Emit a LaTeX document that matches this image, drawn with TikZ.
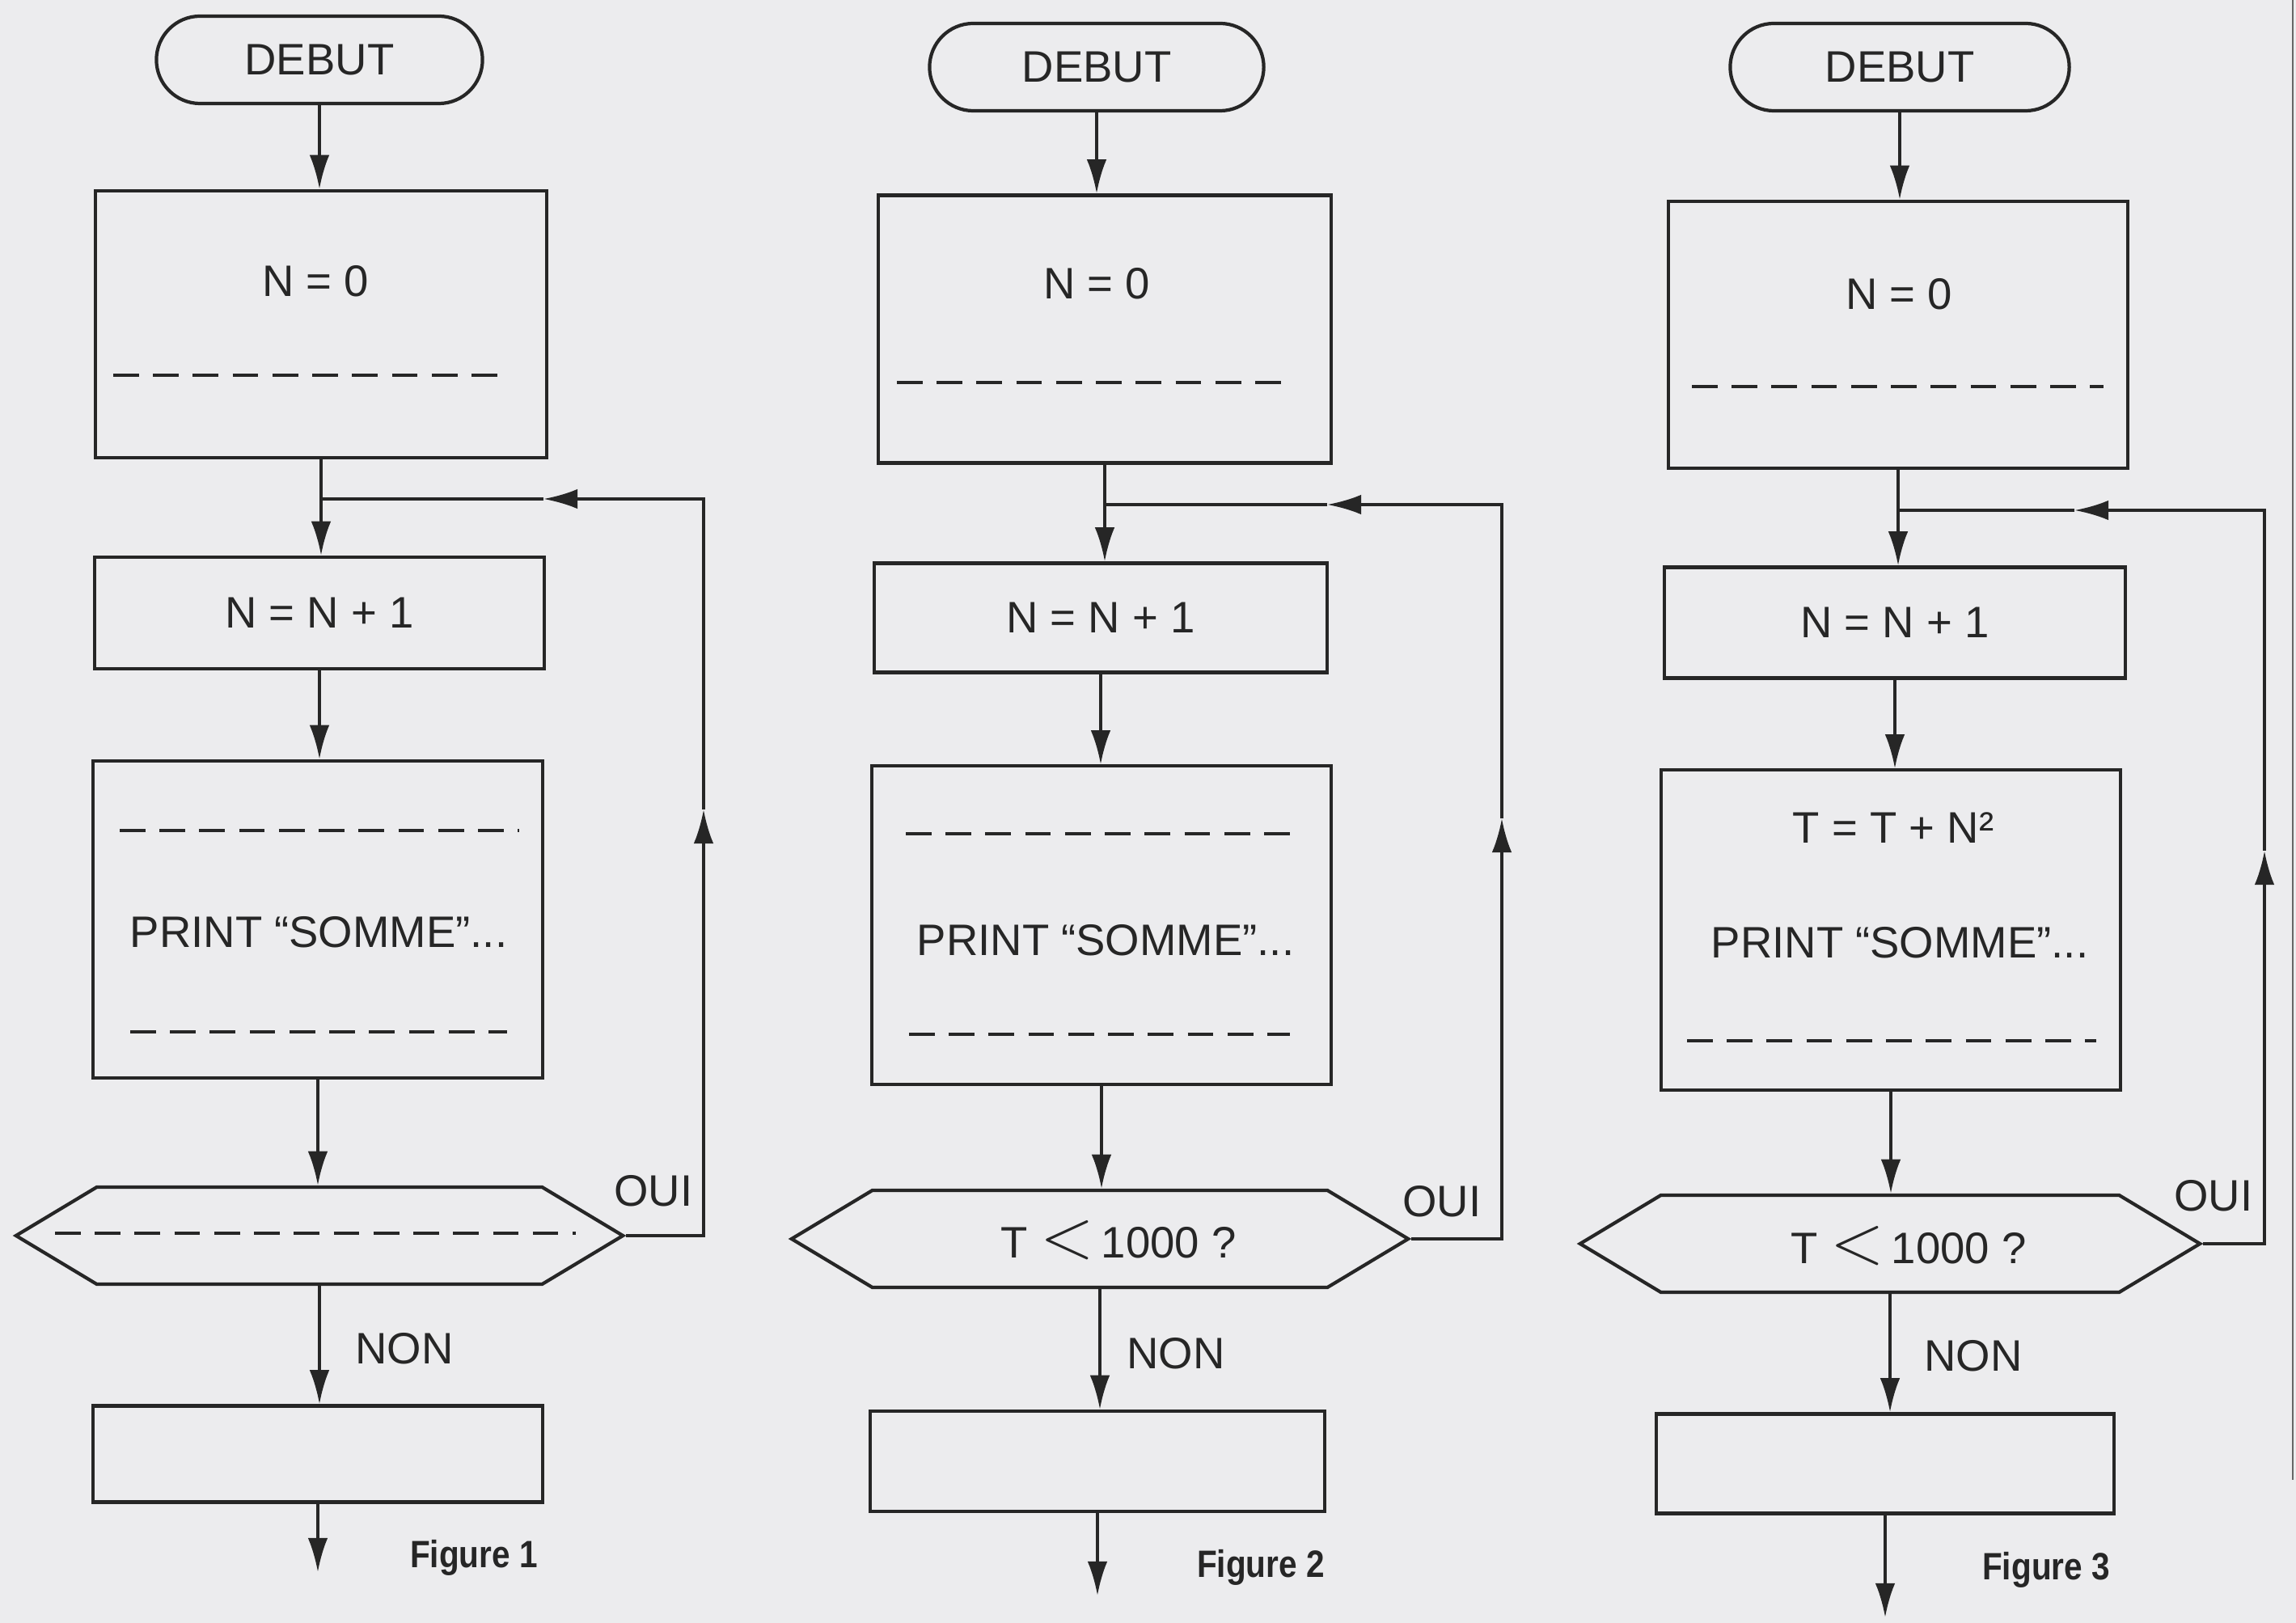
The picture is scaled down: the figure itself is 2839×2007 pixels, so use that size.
\documentclass[tikz,border=0pt]{standalone}
\usepackage{fontspec}
\setmainfont{Liberation Sans}
\newfontfamily\figfont[FakeStretch=0.86]{Liberation Sans}
\usetikzlibrary{arrows.meta,shapes.misc,shapes.symbols}
\definecolor{PaperGray}{RGB}{236,236,238}
\definecolor{InkDark}{RGB}{38,38,38}

\begin{document}
\begin{tikzpicture}[x=0.01cm,y=-0.01cm,>={Latex[length=12pt,width=7pt]},
  every node/.style={text=InkDark,font=\fontsize{15.5}{18}\selectfont},
  shapeline/.style={draw=InkDark,line width=1.2pt,inner sep=0pt},
  startbox/.style={shapeline,rounded rectangle,minimum height=1.08cm,minimum width=#1},
  instrbox/.style 2 args={shapeline,rectangle,minimum width=#1,minimum height=#2},
  testbox/.style={shapeline,signal,signal to=west and east,signal pointer angle=62,
    minimum height=1.2cm,minimum width=#1},
  flow/.style={->,draw=InkDark,line width=1.1pt},
  dashline/.style={draw=InkDark,line width=1.1pt,dash pattern=on 9pt off 5pt},
  txt/.style={anchor=base},
  figlabel/.style={anchor=base,font=\figfont\bfseries\fontsize{13.4}{16}\selectfont}]
  \useasboundingbox (0,0) rectangle (2839,2007);
  \fill[PaperGray] (0,0) rectangle (2839,2007);
  \draw[InkDark!70,line width=0.8pt] (2835,0) -- (2835,1830);

  % Figure 1
  \node[startbox=4.03cm] (d1) at (395,74) {DEBUT};
  \node[instrbox={5.57cm}{3.30cm}] (a1) at (397,401) {};
  \node[txt] (a1t) at (390,367) {N = 0};
  \draw[dashline] (140,464) -- (632,464);
  \node[instrbox={5.55cm}{1.38cm}] (b1) at (395,758) {N = N + 1};
  \node[instrbox={5.56cm}{3.92cm}] (c1) at (393,1137) {};
  \draw[dashline] (148,1027) -- (642,1027);
  \node[txt] (c1t) at (394,1172) {PRINT ``SOMME''...};
  \draw[dashline] (161,1276) -- (627,1276);
  \node[testbox=7.50cm] (h1) at (395,1528) {};
  \draw[dashline] (68,1525) -- (712,1525);
  \node[instrbox={5.56cm}{1.19cm}] (e1) at (393,1798) {};
  \coordinate (z1) at (393,1944);
  \coordinate (u1) at (870,1001);
  \coordinate (l1) at (672,617);
  \coordinate (j1) at (a1 |- l1);
  \draw[flow] (d1) -- (d1 |- a1.north);
  \draw[flow] (a1) -- (a1 |- b1.north);
  \draw[flow] (b1) -- (b1 |- c1.north);
  \draw[flow] (c1) -- (c1 |- h1.north);
  \draw[flow] (h1) -- (h1 |- e1.north);
  \draw[flow] (e1) -- (z1);
  \draw[flow] (h1.east) -| (u1);
  \draw[flow] (u1) |- (l1);
  \draw[flow,-] (l1) -- (j1);
  \node[txt] (o1) at (808,1491) {OUI};
  \node[txt] (n1) at (500,1686) {NON};
  \node[figlabel] (f1) at (586,1938) {Figure 1};

  % Figure 2
  \node[startbox=4.13cm] (d2) at (1356,83) {DEBUT};
  \node[instrbox={5.60cm}{3.31cm}] (a2) at (1366,407) {};
  \node[txt] (a2t) at (1356,370) {N = 0};
  \draw[dashline] (1109,473) -- (1585,473);
  \node[instrbox={5.59cm}{1.35cm}] (b2) at (1361,764) {N = N + 1};
  \node[instrbox={5.67cm}{3.93cm}] (c2) at (1362,1144) {};
  \draw[dashline] (1120,1031) -- (1611,1031);
  \node[txt] (c2t) at (1367,1182) {PRINT ``SOMME''...};
  \draw[dashline] (1124,1279) -- (1595,1279);
  \node[testbox=7.62cm] (h2) at (1360,1532) {};
  \node[txt] (h2t) at (1383,1555) {T {\fontsize{27}{27}\selectfont$<$}\,1000 ?};
  \node[instrbox={5.62cm}{1.24cm}] (e2) at (1357,1807) {};
  \coordinate (z2) at (1357,1973);
  \coordinate (u2) at (1857,1012);
  \coordinate (l2) at (1641,624);
  \coordinate (j2) at (a2 |- l2);
  \draw[flow] (d2) -- (d2 |- a2.north);
  \draw[flow] (a2) -- (a2 |- b2.north);
  \draw[flow] (b2) -- (b2 |- c2.north);
  \draw[flow] (c2) -- (c2 |- h2.north);
  \draw[flow] (h2) -- (h2 |- e2.north);
  \draw[flow] (e2) -- (z2);
  \draw[flow] (h2.east) -| (u2);
  \draw[flow] (u2) |- (l2);
  \draw[flow,-] (l2) -- (j2);
  \node[txt] (o2) at (1783,1504) {OUI};
  \node[txt] (n2) at (1454,1692) {NON};
  \node[figlabel] (f2) at (1559,1950) {Figure 2};

  % Figure 3
  \node[startbox=4.19cm] (d3) at (2349,83) {DEBUT};
  \node[instrbox={5.68cm}{3.30cm}] (a3) at (2347,414) {};
  \node[txt] (a3t) at (2348,383) {N = 0};
  \draw[dashline] (2092,478) -- (2601,478);
  \node[instrbox={5.69cm}{1.37cm}] (b3) at (2343,770) {N = N + 1};
  \node[instrbox={5.68cm}{3.95cm}] (c3) at (2338,1150) {};
  \node[txt] (c3s) at (2341,1043) {T = T + N²};
  \node[txt] (c3t) at (2349,1185) {PRINT ``SOMME''...};
  \draw[dashline] (2086,1287) -- (2592,1287);
  \node[testbox=7.66cm] (h3) at (2337,1538) {};
  \node[txt] (h3t) at (2360,1562) {T {\fontsize{27}{27}\selectfont$<$}\,1000 ?};
  \node[instrbox={5.65cm}{1.23cm}] (e3) at (2331,1810) {};
  \coordinate (z3) at (2331,2000);
  \coordinate (u3) at (2800,1052);
  \coordinate (l3) at (2565,631);
  \coordinate (j3) at (a3 |- l3);
  \draw[flow] (d3) -- (d3 |- a3.north);
  \draw[flow] (a3) -- (a3 |- b3.north);
  \draw[flow] (b3) -- (b3 |- c3.north);
  \draw[flow] (c3) -- (c3 |- h3.north);
  \draw[flow] (h3) -- (h3 |- e3.north);
  \draw[flow] (e3) -- (z3);
  \draw[flow] (h3.east) -| (u3);
  \draw[flow] (u3) |- (l3);
  \draw[flow,-] (l3) -- (j3);
  \node[txt] (o3) at (2737,1497) {OUI};
  \node[txt] (n3) at (2440,1695) {NON};
  \node[figlabel] (f3) at (2530,1953) {Figure 3};
\end{tikzpicture}
\end{document}
